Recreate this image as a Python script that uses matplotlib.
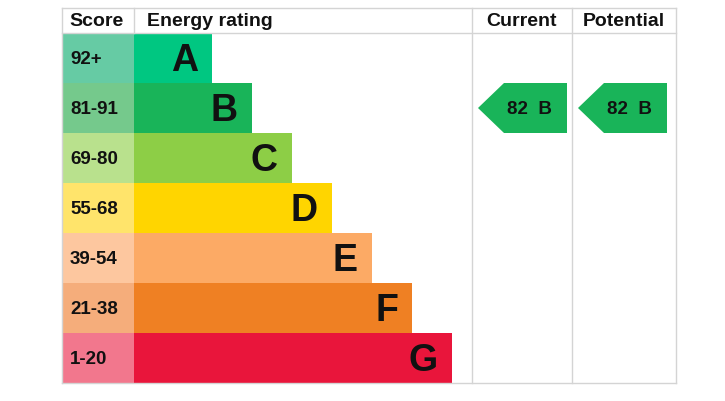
import matplotlib
matplotlib.use("Agg")
import matplotlib.pyplot as plt
from matplotlib.patches import Rectangle, Polygon

plt.rcParams['font.family'] = ['Liberation Sans', 'DejaVu Sans']

bands = ['A', 'B', 'C', 'D', 'E', 'F', 'G']
scores = ['92+', '81-91', '69-80', '55-68', '39-54', '21-38', '1-20']
band_colors = ['#00c781', '#19b459', '#8dce46', '#ffd500', '#fcaa65', '#ef8023', '#e9153b']
score_colors = ['#66cba4', '#75c98c', '#b9e18d', '#ffe46b', '#fdc79f', '#f5ad7b', '#f2778d']
current_score, current_band = 82, 'B'
potential_score, potential_band = 82, 'B'

fig = plt.figure(figsize=(7.25, 4.01), dpi=100)
ax = fig.add_axes([0, 0, 1, 1])
ax.set_xlim(0, 725)
ax.set_ylim(401, 0)
ax.set_axis_off()

left, score_w, top, head_h, row_h = 62, 72, 8, 25, 50
bar_x0 = left + score_w
col_cur, col_pot, right = 472, 572, 676
bottom = top + head_h + row_h * len(bands)
grid = '#d4d4d4'

# grid lines
for y in (top, top + head_h, bottom):
    ax.plot([left, right], [y, y], color=grid, lw=1)
for x in (left, bar_x0, col_cur, col_pot, right):
    ax.plot([x, x], [top, bottom] if x not in (bar_x0,) else [top, top + head_h],
            color=grid, lw=1)

hfont = dict(fontsize=14, fontweight='bold', va='center', color='#111111')
ax.text(left + 7, top + head_h / 2 + 1, 'Score', ha='left', **hfont)
ax.text(bar_x0 + 13, top + head_h / 2 + 1, 'Energy rating', ha='left', **hfont)
ax.text((col_cur + col_pot) / 2, top + head_h / 2 + 1, 'Current', ha='center', **hfont)
ax.text((col_pot + right) / 2, top + head_h / 2 + 1, 'Potential', ha='center', **hfont)

for i, (band, sc) in enumerate(zip(bands, scores)):
    y0 = top + head_h + i * row_h
    ax.add_patch(Rectangle((left, y0), score_w, row_h, color=score_colors[i], lw=0))
    bar_w = 78 + 40 * i
    ax.add_patch(Rectangle((bar_x0, y0), bar_w, row_h, color=band_colors[i], lw=0))
    ax.text(left + 8, y0 + row_h / 2 + 1, sc, ha='left', va='center',
            fontsize=13.5, fontweight='bold', color='#111111')
    ax.text(bar_x0 + bar_w - 14, y0 + row_h / 2 + 3, band, ha='right', va='center',
            fontsize=27, fontweight='bold', color='#111111')


def arrow(x0, x1, score, band):
    i = bands.index(band)
    y0 = top + head_h + i * row_h
    pts = [(x0, y0 + row_h / 2), (x0 + 26, y0), (x1, y0), (x1, y0 + row_h), (x0 + 26, y0 + row_h)]
    ax.add_patch(Polygon(pts, closed=True, color=band_colors[i], lw=0))
    ax.text((x0 + 26 + x1) / 2 - 6, y0 + row_h / 2 + 1, f'{score}  {band}', ha='center',
            va='center', fontsize=13.5, fontweight='bold', color='#111111')


arrow(col_cur + 6, col_pot - 5, current_score, current_band)
arrow(col_pot + 6, right - 9, potential_score, potential_band)

fig.savefig('out.png', dpi=100, facecolor='white')
